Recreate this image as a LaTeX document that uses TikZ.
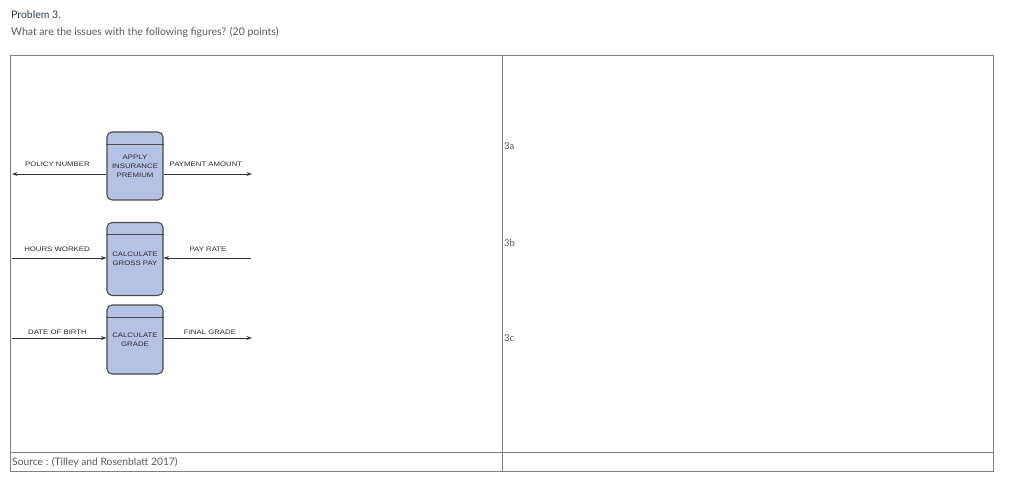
\documentclass[tikz,border=0pt]{standalone}
\usepackage{fontspec}
\setmainfont{Lato}
\newfontfamily\dfdfont[FakeStretch=1.2]{Liberation Sans}
\usetikzlibrary{arrows.meta,calc}
\definecolor{boxfill}{HTML}{B6C2E4}
\definecolor{boxline}{HTML}{4A4A4A}
\definecolor{tabline}{HTML}{808080}
\definecolor{headdark}{HTML}{2D3B45}
\definecolor{headgrey}{HTML}{5A5A5A}
\tikzset{
  x=1pt, y=-1pt,
  procbox/.style={draw=boxline, fill=boxfill, line width=1.1pt, rounded corners=5pt,
    minimum width=56pt, inner sep=0pt, align=center,
    font=\dfdfont\fontsize{6.5}{8.8}\selectfont, text=black!85},
  flowlbl/.style={font=\dfdfont\fontsize{6.5}{7}\selectfont, text=black!85, anchor=base},
  flow/.style={draw=black!80, line width=0.8pt, -{Stealth[length=5.5pt,width=4pt]}},
  tab/.style={draw=tabline, line width=1pt},
  hdrline/.style={draw=boxline, line width=1pt},
  txt/.style={font=\fontsize{10.5}{12}\selectfont, anchor=base west, inner sep=0pt}
}
\begin{document}
\begin{tikzpicture}
\useasboundingbox (0,0) rectangle (1034,500);
\fill[white] (0,0) rectangle (1034,500);
% header
\node[txt, text=headdark] (title) at (11,18.5) {Problem 3.};
\node[txt, text=headgrey] (question) at (11,36) {What are the issues with the following figures? (20 points)};
% table
\draw[tab] (10,56) rectangle (993,471);
\draw[tab] (502,56) -- (502,471);
\draw[tab] (10,452) -- (993,452);
\node[txt, text=headgrey, font=\fontsize{10.3}{12}\selectfont] (source) at (12,465.5) {Source : (Tilley and Rosenblatt 2017)};
\node[txt, text=headgrey, font=\fontsize{9.5}{11}\selectfont] (a3) at (504,150) {3a};
\node[txt, text=headgrey, font=\fontsize{9.5}{11}\selectfont] (b3) at (504,246) {3b};
\node[txt, text=headgrey, font=\fontsize{9.5}{11}\selectfont] (c3) at (504,341) {3c};
% process boxes
\node[procbox, minimum height=68pt] (b1) at (135,166) {APPLY\\INSURANCE\\PREMIUM};
\node[procbox, minimum height=73pt] (b2) at (135,259) {CALCULATE\\GROSS PAY};
\node[procbox, minimum height=69pt] (b3) at (135,339.5) {CALCULATE\\GRADE};
\draw[hdrline] ($(b1.north west)+(0,13)$) -- ($(b1.north east)+(0,13)$);
\draw[hdrline] ($(b2.north west)+(0,12.5)$) -- ($(b2.north east)+(0,12.5)$);
\draw[hdrline] ($(b3.north west)+(0,13)$) -- ($(b3.north east)+(0,13)$);
% free ends
\coordinate (l1) at (12,174);
\coordinate (r1) at (252,174);
\coordinate (l2) at (12,258);
\coordinate (r2) at (251,258);
\coordinate (l3) at (12,338);
\coordinate (r3) at (252,338);
% flows
\draw[flow] (b1.west |- l1) -- (l1);
\draw[flow] (b1.east |- r1) -- (r1);
\draw[flow] (l2) -- (b2.west |- l2);
\draw[flow] (r2) -- (b2.east |- r2);
\draw[flow] (l3) -- (b3.west |- l3);
\draw[flow] (b3.east |- r3) -- (r3);
% labels
\node[flowlbl] (lab1) at (57.5,167) {POLICY NUMBER};
\node[flowlbl] (lab2) at (206,167) {PAYMENT AMOUNT};
\node[flowlbl] (lab3) at (57,251.5) {HOURS WORKED};
\node[flowlbl] (lab4) at (208,251.5) {PAY RATE};
\node[flowlbl] (lab5) at (57.5,334.5) {DATE OF BIRTH};
\node[flowlbl] (lab6) at (210,334.5) {FINAL GRADE};
\end{tikzpicture}
\end{document}
